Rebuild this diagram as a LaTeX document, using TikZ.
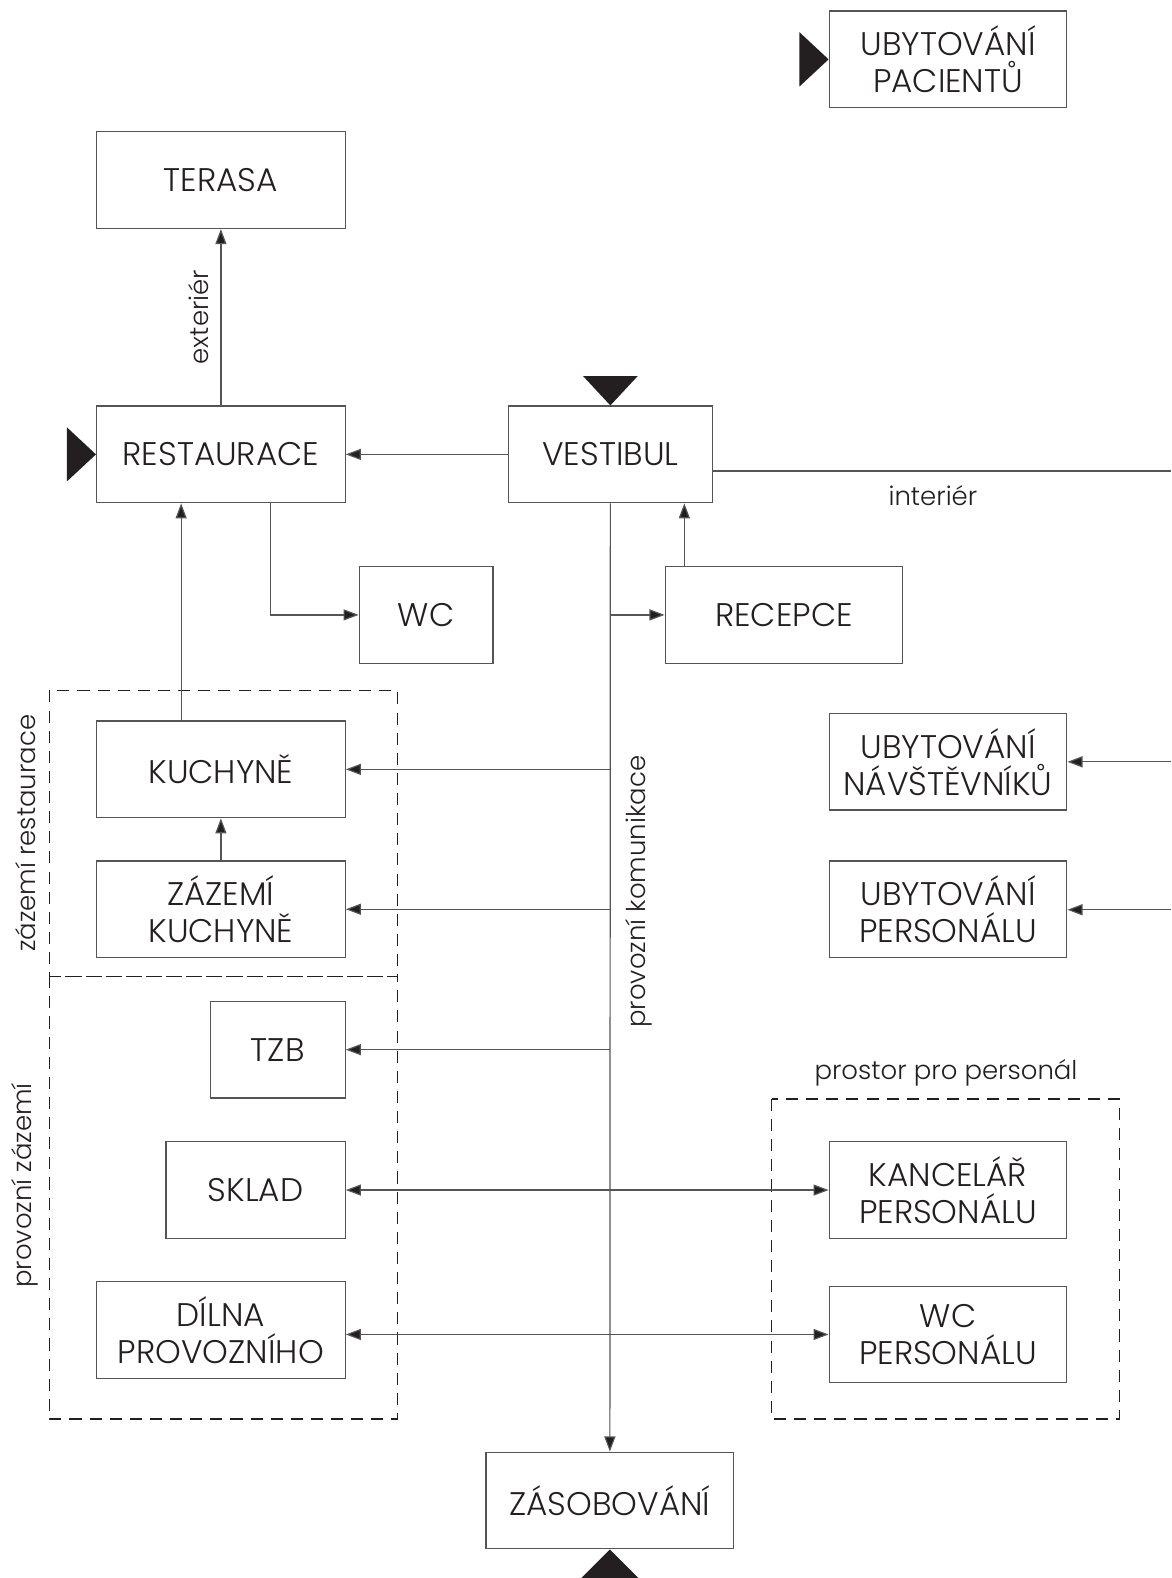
\documentclass[tikz,border=0pt]{standalone}
\usepackage{fontspec}
\setmainfont{Poppins}[UprightFont=* Light]
\usetikzlibrary{arrows.meta}
\definecolor{ink}{HTML}{231F20}
\definecolor{linegray}{HTML}{555555}
\begin{document}
\begin{tikzpicture}[x=1pt,y=-1pt,
  box/.style={draw=linegray, line width=1.3pt, text=ink, align=center, inner sep=0pt,
    font=\fontsize{32.5}{37}\selectfont, minimum height=96pt},
  arr/.style={draw=linegray, line width=1.2pt, -{Triangle[length=15pt,width=11pt,fill=ink]}},
  darr/.style={draw=linegray, line width=1.2pt, {Triangle[length=15pt,width=11pt,fill=ink]}-{Triangle[length=15pt,width=11pt,fill=ink]}},
  ln/.style={draw=linegray, line width=1.2pt},
  zone/.style={draw=ink, line width=1.1pt, dash pattern=on 12pt off 8pt},
  lbl/.style={text=ink, font=\fontsize{25.8}{30}\selectfont, inner sep=0pt},
  big/.style={fill=ink, draw=none}]
\useasboundingbox (0,0) rectangle (1164,1568);

% zones
\draw[zone] (49,686) rectangle (395,970);
\draw[zone] (49,970) rectangle (395,1410);
\draw[zone] (767,1092) rectangle (1112,1410);

% boxes
\node[box, minimum width=236pt] (pac) at (942,59) {UBYTOVÁNÍ\\PACIENTŮ};
\node[box, minimum width=247pt] (terasa) at (219.5,179) {TERASA};
\node[box, minimum width=247pt] (rest) at (219.5,451.5) {RESTAURACE};
\node[box, minimum width=203pt] (vest) at (606.5,451.5) {VESTIBUL};
\node[box, minimum width=133pt] (wc) at (423.5,611) {WC};
\node[box, minimum width=236pt] (rec) at (779,611) {RECEPCE};
\node[box, minimum width=247pt] (kuch) at (219.5,764.5) {KUCHYNĚ};
\node[box, minimum width=247pt] (zkuch) at (219.5,903.5) {ZÁZEMÍ\\KUCHYNĚ};
\node[box, minimum width=134pt] (tzb) at (276,1043) {TZB};
\node[box, minimum width=178pt] (sklad) at (254,1182.5) {SKLAD};
\node[box, minimum width=247pt] (dilna) at (219.5,1321.5) {DÍLNA\\PROVOZNÍHO};
\node[box, minimum width=246pt] (zas) at (606,1491) {ZÁSOBOVÁNÍ};
\node[box, minimum width=236pt] (navst) at (942,757) {UBYTOVÁNÍ\\NÁVŠTĚVNÍKŮ};
\node[box, minimum width=236pt] (pers) at (942,903.5) {UBYTOVÁNÍ\\PERSONÁLU};
\node[box, minimum width=236pt] (kanc) at (942,1182.5) {KANCELÁŘ\\PERSONÁLU};
\node[box, minimum width=236pt] (wcp) at (942,1326) {WC\\PERSONÁLU};

% entrance triangles
\fill[big] (pac.west) -- ++(-29,-27) -- ++(0,54) -- cycle;
\fill[big] (rest.west) -- ++(-29,-27) -- ++(0,54) -- cycle;
\fill[big] (vest.north) -- ++(-27,-29) -- ++(54,0) -- cycle;
\fill[big] (zas.south) -- ++(-29,29) -- ++(58,0) -- cycle;

% free ends
\coordinate (iend) at (1164,468);
\coordinate (nend) at (1164,757);
\coordinate (pend) at (1164,904);

% connectors
\draw[arr] (rest.north) -- (terasa.south);
\draw[arr] (vest.west) -- (rest.east);
\draw[ln] (vest.east |- iend) -- (iend);
\draw[arr] ([xshift=49.5pt]rest.south) |- (wc.west);
\draw[arr] (vest.south) -- (zas.north);
\draw[arr] (vest.south |- rec.west) -- (rec.west);
\draw[arr] ([xshift=-99pt]rec.north) -- ([xshift=-99pt]rec.north |- vest.south);
\draw[arr] ([xshift=-39.5pt]kuch.north) -- ([xshift=-39.5pt]kuch.north |- rest.south);
\draw[arr] (zkuch.north) -- (kuch.south);
\draw[arr] (vest.south |- kuch.east) -- (kuch.east);
\draw[arr] (vest.south |- zkuch.east) -- (zkuch.east);
\draw[arr] (vest.south |- tzb.east) -- (tzb.east);
\draw[darr] (sklad.east) -- (kanc.west);
\draw[darr] (dilna.east |- wcp.west) -- (wcp.west);
\draw[arr] (nend) -- (navst.east);
\draw[arr] (pend) -- (pers.east |- pend);

% labels
\node[lbl, rotate=90] (lext) at (197,315) {exteriér};
\node[lbl] (lint) at (927,492) {interiér};
\node[lbl, rotate=90] (lzr) at (25,828) {zázemí restaurace};
\node[lbl, rotate=90] (lpz) at (25,1178) {provozní zázemí};
\node[lbl, rotate=90] (lpk) at (635,886) {provozní komunikace};
\node[lbl] (lpp) at (940,1066) {prostor pro personál};
\end{tikzpicture}
\end{document}
